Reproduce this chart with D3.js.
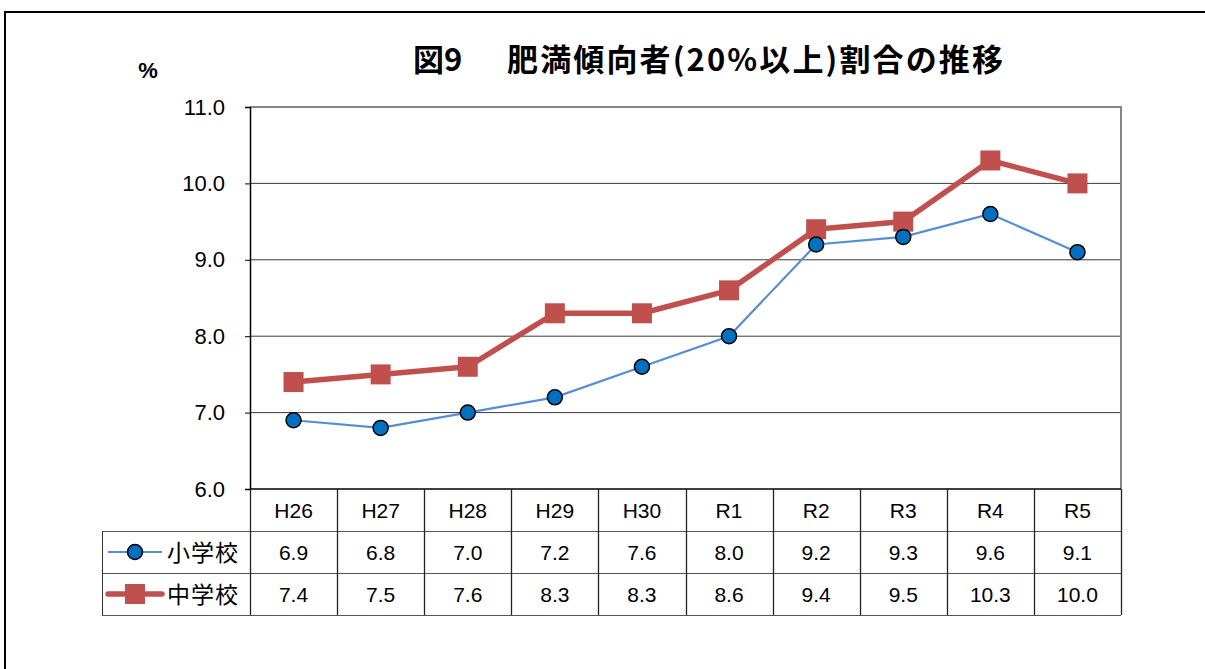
<!DOCTYPE html>
<html lang="ja">
<head>
<meta charset="UTF-8">
<title>図9 肥満傾向者割合の推移</title>
<script src="https://d3js.org/d3.v7.min.js"></script>
<style>
    html, body {
        margin: 0;
        background: white;
    }
    body {
        width: 1205px;
        height: 669px;
        overflow: hidden;
    }
    text {
        font-family: "Liberation Sans", Arial, sans-serif;
        fill: #000;
    }
    .jp {
        font-family: "Noto Sans CJK JP", sans-serif;
    }
</style>
</head>
<body>
<div id="chart"></div>
<script>
    const years = ["H26", "H27", "H28", "H29", "H30", "R1", "R2", "R3", "R4", "R5"];
    const elementary = [6.9, 6.8, 7.0, 7.2, 7.6, 8.0, 9.2, 9.3, 9.6, 9.1];
    const juniorHigh = [7.4, 7.5, 7.6, 8.3, 8.3, 8.6, 9.4, 9.5, 10.3, 10.0];
    const yTicks = [6, 7, 8, 9, 10, 11];
    const seriesNames = ["小学校", "中学校"];

    const width = 1205, height = 669;
    const plot = { left: 250, right: 1121, top: 107, bottom: 489 };
    const rowH = 42;

    const svg = d3.select("#chart").append("svg")
        .attr("width", width)
        .attr("height", height);

    // outer frame
    svg.append("rect")
        .attr("x", 5).attr("y", 12)
        .attr("width", 1220).attr("height", 700)
        .attr("fill", "none")
        .attr("stroke", "#000")
        .attr("stroke-width", 2);

    const x = d3.scaleBand()
        .domain(years)
        .range([plot.left, plot.right]);

    const y = d3.scaleLinear()
        .domain([6, 11])
        .range([plot.bottom, plot.top]);

    // title
    svg.append("text")
        .attr("class", "jp")
        .attr("x", 413).attr("y", 71)
        .attr("font-size", 31)
        .attr("font-weight", "bold")
        .text("図9");
    svg.append("text")
        .attr("class", "jp")
        .attr("x", 507).attr("y", 71)
        .attr("font-size", 31)
        .attr("font-weight", "bold")
        .attr("textLength", 496)
        .attr("lengthAdjust", "spacing")
        .text("肥満傾向者(20%以上)割合の推移");

    svg.append("text")
        .attr("x", 148).attr("y", 78)
        .attr("text-anchor", "middle")
        .attr("font-size", 22)
        .attr("font-weight", "bold")
        .text("%");

    // grid lines
    svg.append("g")
        .selectAll("line")
        .data(yTicks.filter(t => t > 6 && t < 11))
        .join("line")
        .attr("x1", plot.left).attr("x2", plot.right)
        .attr("y1", d => y(d)).attr("y2", d => y(d))
        .attr("stroke", "#3a3a3a")
        .attr("stroke-width", 1);

    // plot border (top / right gray)
    svg.append("path")
        .attr("d", `M${plot.left},${plot.top}H${plot.right}V${plot.bottom}`)
        .attr("fill", "none")
        .attr("stroke", "#868686")
        .attr("stroke-width", 2);

    // y axis
    const yAxis = svg.append("g")
        .attr("transform", `translate(${plot.left},0)`)
        .call(d3.axisLeft(y).tickValues(yTicks).tickSize(5).tickPadding(20)
            .tickFormat(d3.format(".1f")));
    yAxis.select(".domain").attr("stroke", "#000").attr("stroke-width", 1.5);
    yAxis.selectAll(".tick line").attr("stroke", "#000");
    yAxis.selectAll(".tick text")
        .attr("font-size", 22)
        .attr("font-family", "Liberation Sans, Arial, sans-serif")
        .attr("fill", "#000");

    // table
    const table = svg.append("g");
    const tTop = plot.bottom;
    const legendLeft = 102;

    // horizontal lines
    table.append("line")
        .attr("x1", plot.left).attr("x2", plot.right)
        .attr("y1", tTop).attr("y2", tTop)
        .attr("stroke", "#000").attr("stroke-width", 1.5);
    [1, 2, 3].forEach(i => {
        table.append("line")
            .attr("x1", legendLeft).attr("x2", plot.right)
            .attr("y1", tTop + rowH * i + 0.5).attr("y2", tTop + rowH * i + 0.5)
            .attr("stroke", "#555").attr("stroke-width", 1);
    });
    // vertical lines
    const vx = [plot.left].concat(years.map(d => x(d) + x.bandwidth()));
    table.selectAll(".vline")
        .data(vx)
        .join("line")
        .attr("x1", d => Math.round(d) + 0.5).attr("x2", d => Math.round(d) + 0.5)
        .attr("y1", tTop).attr("y2", tTop + rowH * 3)
        .attr("stroke", "#222").attr("stroke-width", 1.3);
    table.append("line")
        .attr("x1", legendLeft + 0.5).attr("x2", legendLeft + 0.5)
        .attr("y1", tTop + rowH).attr("y2", tTop + rowH * 3)
        .attr("stroke", "#333").attr("stroke-width", 1);

    // header row
    table.selectAll(".hdr")
        .data(years)
        .join("text")
        .attr("x", d => x(d) + x.bandwidth() / 2)
        .attr("y", tTop + 29)
        .attr("text-anchor", "middle")
        .attr("font-size", 21)
        .text(d => d);

    const rows = [elementary, juniorHigh];
    rows.forEach((vals, r) => {
        table.selectAll(".val" + r)
            .data(vals)
            .join("text")
            .attr("x", (d, i) => x(years[i]) + x.bandwidth() / 2)
            .attr("y", tTop + rowH * (r + 1) + 29)
            .attr("text-anchor", "middle")
            .attr("font-size", 21)
            .text(d => d3.format(".1f")(d));
    });

    // legend keys
    const keyY0 = tTop + rowH * 1.5;
    const keyY1 = tTop + rowH * 2.5;
    table.append("line")
        .attr("x1", 108).attr("x2", 162)
        .attr("y1", keyY0).attr("y2", keyY0)
        .attr("stroke", "#558ED5").attr("stroke-width", 2.2);
    table.append("circle")
        .attr("cx", 135).attr("cy", keyY0).attr("r", 7.5)
        .attr("fill", "#0070C0").attr("stroke", "#000").attr("stroke-width", 1.5);
    table.append("line")
        .attr("x1", 108).attr("x2", 162)
        .attr("y1", keyY1).attr("y2", keyY1)
        .attr("stroke", "#C0504D").attr("stroke-width", 5.5)
        .attr("stroke-linecap", "round");
    table.append("rect")
        .attr("x", 125).attr("y", keyY1 - 10)
        .attr("width", 20).attr("height", 20)
        .attr("fill", "#C0504D");
    seriesNames.forEach((name, i) => {
        table.append("text")
            .attr("class", "jp")
            .attr("x", 167)
            .attr("y", tTop + rowH * (i + 1) + 30)
            .attr("font-size", 23)
            .attr("letter-spacing", 1)
            .text(name);
    });

    // lines
    const line = d3.line()
        .x((d, i) => x(years[i]) + x.bandwidth() / 2)
        .y(d => y(d));

    svg.append("path")
        .datum(elementary)
        .attr("d", line)
        .attr("fill", "none")
        .attr("stroke", "#558ED5")
        .attr("stroke-width", 2.2);

    svg.append("path")
        .datum(juniorHigh)
        .attr("d", line)
        .attr("fill", "none")
        .attr("stroke", "#C0504D")
        .attr("stroke-width", 5.5)
        .attr("stroke-linejoin", "round");

    svg.append("g")
        .selectAll("rect")
        .data(juniorHigh)
        .join("rect")
        .attr("x", (d, i) => x(years[i]) + x.bandwidth() / 2 - 10)
        .attr("y", d => y(d) - 10)
        .attr("width", 20).attr("height", 20)
        .attr("fill", "#C0504D");

    svg.append("g")
        .selectAll("circle")
        .data(elementary)
        .join("circle")
        .attr("cx", (d, i) => x(years[i]) + x.bandwidth() / 2)
        .attr("cy", d => y(d))
        .attr("r", 7.5)
        .attr("fill", "#0070C0")
        .attr("stroke", "#000")
        .attr("stroke-width", 1.5);
</script>
</body>
</html>
